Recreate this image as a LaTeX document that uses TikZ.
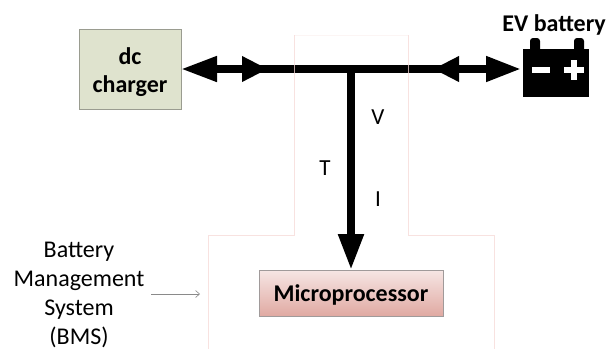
\documentclass[tikz,border=0pt]{standalone}
\usepackage{fontspec}
\setmainfont{Carlito}
\usetikzlibrary{arrows.meta}
\definecolor{chargerfill}{HTML}{DFE3CE}
\definecolor{chargerline}{HTML}{9A9C90}
\definecolor{microtop}{HTML}{F6E6E4}
\definecolor{microbot}{HTML}{E0A9A2}
\definecolor{microline}{HTML}{A09A9A}
\definecolor{bmsline}{HTML}{F6D9D6}
\definecolor{pointer}{HTML}{8A8A8A}
\tikzset{
  x=1pt,y=-1pt,
  bus/.style={draw=black,line width=7.5pt},
  blockbold/.style={font=\bfseries\fontsize{24}{28.5}\selectfont,align=center,text=black},
  plain/.style={font=\fontsize{24}{29}\selectfont,align=center,text=black},
  single/.style={font=\fontsize{23}{28}\selectfont,text=black},
  bmsborder/.style={draw=bmsline,line width=0.8pt,opacity=0.75},
}
\begin{document}
\begin{tikzpicture}
\useasboundingbox (0,0) rectangle (606,349);
\fill[white] (0,0) rectangle (606,349);
% blocks
\node[draw=chargerline,fill=chargerfill,line width=1pt,minimum width=102pt,minimum height=80pt,inner sep=0pt,outer sep=0pt,blockbold] (charger) at (130,69.5) {\rule{0pt}{22pt}dc\\charger};
\node[fill=black,minimum width=66pt,minimum height=48pt,inner sep=0pt,outer sep=2pt] (battery) at (556,73) {};
\fill[black,rounded corners=3pt] (530,38) rectangle (540,52);
\fill[black,rounded corners=3pt] (574,38) rectangle (584,52);
\fill[white] (532,66.5) rectangle (550,72.5);
\fill[white] (564,66.5) rectangle (584,72.5);
\fill[white] (571,59.5) rectangle (577,80);
\node[font=\bfseries\fontsize{24}{28}\selectfont,inner sep=0pt,anchor=base east] (evlabel) at (606,31) {EV battery};
\node[draw=microline,line width=1pt,top color=microtop,bottom color=microbot,minimum width=184pt,minimum height=46pt,inner sep=0pt,outer sep=0pt,font=\bfseries\fontsize{24}{28}\selectfont] (micro) at (351,293) {\rule{0pt}{21pt}Microprocessor};
% bus
\coordinate (leftend) at (268,69);
\coordinate (leftmid) at (230,69);
\coordinate (leftbase) at (250,69);
\coordinate (rightstart) at (433,69);
\coordinate (rightbase) at (450,69);
\coordinate (junction) at (351,69);
\draw[bus,-{Triangle[length=26pt,width=24pt]}] (leftmid) -- (leftend);
\draw[bus,{Triangle[length=36pt,width=24pt]}-] (charger.east |- leftend) -- (leftmid);
\draw[bus] (leftbase) -- (rightbase);
\draw[bus,{Triangle[length=26pt,width=24pt]}-{Triangle[length=35pt,width=24pt]}] (rightstart) -- (battery.west |- rightstart);
\draw[draw=black,line width=8pt,-{Triangle[length=36pt,width=24pt]}] (junction) -- (micro.north);
% BMS outline
\draw[bmsborder] (208,349) -- (208,235) -- (294,235) -- (294,35);
\draw[bmsborder] (494,349) -- (494,235) -- (408,235) -- (408,35);
\draw[bmsline,line width=0.5pt,opacity=0.25] (294,35) -- (408,35);
% labels
\node[single,inner sep=0pt] (vlabel) at (378,117) {V};
\node[single,inner sep=0pt] (tlabel) at (325,168) {T};
\node[single,inner sep=0pt] (ilabel) at (378,199) {I};
\node[plain,inner sep=0pt] (bms) at (79,294.5) {Battery\\Management\\System\\(BMS)};
\coordinate (pointertip) at (200,294);
\draw[pointer,line width=0.6pt,-{Straight Barb[length=4pt,width=7pt]}] (151,294) -- (pointertip);
\end{tikzpicture}
\end{document}
